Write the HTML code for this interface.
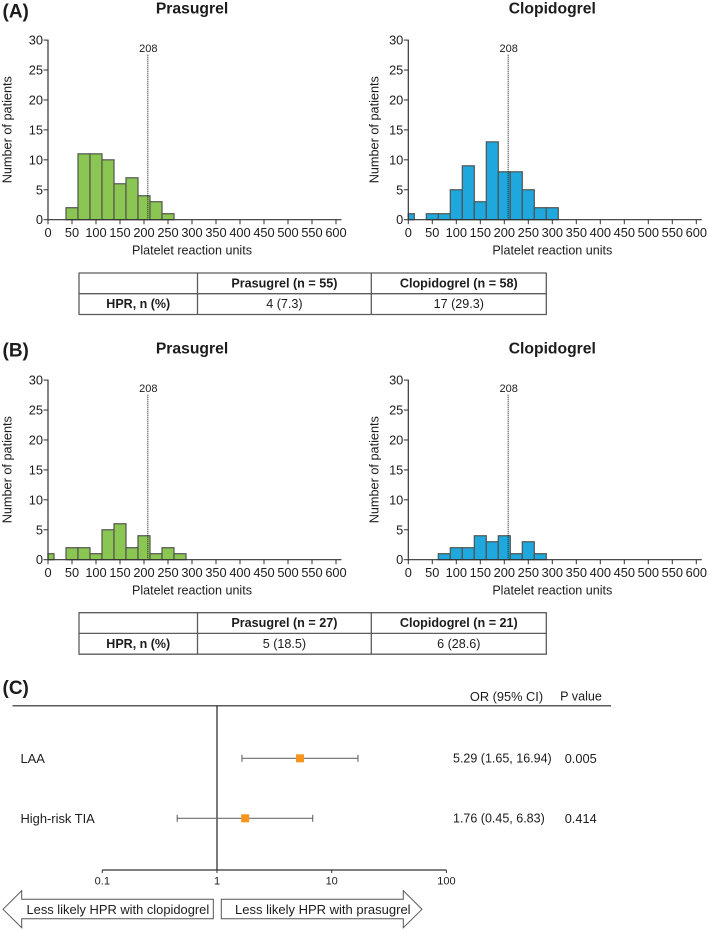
<!DOCTYPE html>
<html lang="en">
<head>
<meta charset="utf-8">
<title>Platelet reaction units by treatment</title>
<style>
html,body{margin:0;padding:0;background:#fff;}
svg{display:block;font-family:"Liberation Sans",Arial,sans-serif;filter:blur(0.3px);}
</style>
</head>
<body>
<svg id="fig" xmlns="http://www.w3.org/2000/svg" width="708" height="931" viewBox="0 0 708 931"></svg>
<script>
// ---- histogram data ----
const binCenters = [0,25,50,75,100,125,150,175,200,225,250,275,300];
const aPrasugrel = [0,0,2,11,11,10,6,7,4,3,1,0,0];
const aClopidogrel = [1,0,1,1,5,9,3,13,8,8,5,2,2];
const bPrasugrel = [1,0,2,2,1,5,6,2,4,1,2,1,0];
const bClopidogrel = [0,0,0,1,2,2,4,3,4,1,3,1,0];
const xTicks = [0,50,100,150,200,250,300,350,400,450,500,550,600];
const yTicks = [0,5,10,15,20,25,30];
const cutoff = 208;
// ---- table data ----
const tableAHeaders = ["Prasugrel (n = 55)","Clopidogrel (n = 58)"];
const tableACells = ["4 (7.3)","17 (29.3)"];
const tableBHeaders = ["Prasugrel (n = 27)","Clopidogrel (n = 21)"];
const tableBCells = ["5 (18.5)","6 (28.6)"];
// ---- forest data ----
const forestLabels = ["LAA","High-risk TIA"];
const forestOR = [5.29,1.76];
const forestLow = [1.65,0.45];
const forestHigh = [16.94,6.83];
const forestCI = ["5.29 (1.65, 16.94)","1.76 (0.45, 6.83)"];
const forestP = ["0.005","0.414"];
const forestTicks = [0.1,1,10,100];

const NS = "http://www.w3.org/2000/svg";
const fig = document.getElementById("fig");
const INK = "#1c1c1c";

function node(tag, attrs, parent, name) {
  const el = document.createElementNS(NS, tag);
  for (const k in attrs) el.setAttribute(k, attrs[k]);
  
  
  (parent || fig).appendChild(el);
  return el;
}
function label(str, x, y, size, anchor, weight, parent, name) {
  const t = node("text", {x:x, y:y, "font-size":size, "text-anchor":anchor || "start", fill:INK, "font-weight":weight || "normal", "dominant-baseline":"central"}, parent, name);
  t.textContent = str;
  return t;
}

function histogram(id, title, panelX, panelY, values, color, yTitleGap) {
  const x0 = panelX, x600 = panelX + 288, y0 = panelY, y30 = panelY - 179.6;
  const xs = v => x0 + (v / 600) * (x600 - x0);
  const ys = v => y0 - (v / 30) * (y0 - y30);
  const g = node("g", {}, fig, id + "-histogram");
  label(title, (x0 + x600) / 2, panelY - 210.5, 15.7, "middle", "bold", g, id + "-title");
  values.forEach((v, i) => {
    if (!v) return;
    const l = Math.max(0, binCenters[i] - 12.5), r = binCenters[i] + 12.5;
    node("rect", {x:xs(l), y:ys(v), width:xs(r) - xs(l), height:ys(0) - ys(v), fill:color, stroke:"#4f544f", "stroke-width":1.2}, g, id + "-bar-" + binCenters[i]);
  });
  node("line", {x1:xs(cutoff), x2:xs(cutoff), y1:panelY - 165, y2:y0, stroke:"#111", "stroke-width":1, "stroke-dasharray":"1 1"}, g, id + "-cutoff-line");
  label(String(cutoff), xs(cutoff) + 0.5, panelY - 170.5, 11, "middle", "normal", g, id + "-cutoff-label");
  node("line", {x1:x0, x2:x0, y1:y30 - 0.5, y2:y0 + 0.5, stroke:"#333", "stroke-width":1.2}, g, id + "-y-axis");
  node("line", {x1:x0 - 0.5, x2:x600 + 5.5, y1:y0, y2:y0, stroke:"#333", "stroke-width":1.2}, g, id + "-x-axis");
  yTicks.forEach(t => {
    node("line", {x1:x0 - 4.5, x2:x0, y1:ys(t), y2:ys(t), stroke:"#333", "stroke-width":1}, g, id + "-y-tick-" + t);
    label(String(t), x0 - 5, ys(t), 12.8, "end", "normal", g, id + "-y-label-" + t);
  });
  xTicks.forEach(t => {
    node("line", {x1:xs(t), x2:xs(t), y1:y0, y2:y0 + 4.5, stroke:"#333", "stroke-width":1}, g, id + "-x-tick-" + t);
    label(String(t), xs(t), y0 + 13, 12.8, "middle", "normal", g, id + "-x-label-" + t);
  });
  label("Platelet reaction units", (x0 + x600) / 2, y0 + 31, 12.55, "middle", "normal", g, id + "-x-title");
  const yt = label("Number of patients", 0, 0, 12.7, "middle", "normal", g, id + "-y-title");
  yt.setAttribute("transform", "translate(" + (x0 - yTitleGap) + "," + (y0 - 90) + ") rotate(-90)");
}

function summaryTable(id, top, headers, cells) {
  const g = node("g", {}, fig, id);
  const X = [79, 197.5, 371.3, 546.3];
  const Y = [top, top + 20.7, top + 41.5];
  const st = {stroke:"#5c5c5c", "stroke-width":1.3};
  Y.forEach((y, i) => node("line", Object.assign({x1:X[0] - 0.5, x2:X[3] + 0.5, y1:y, y2:y}, st), g, id + "-h-rule-" + i));
  X.forEach((x, i) => node("line", Object.assign({x1:x, x2:x, y1:Y[0], y2:Y[2]}, st), g, id + "-v-rule-" + i));
  label("HPR, n (%)", (X[0] + X[1]) / 2, (Y[1] + Y[2]) / 2, 12.5, "middle", "bold", g, id + "-row-label");
  headers.forEach((h, i) => {
    label(h, (X[i + 1] + X[i + 2]) / 2, (Y[0] + Y[1]) / 2, 12.6, "middle", "bold", g, id + "-header-" + i);
    label(cells[i], (X[i + 1] + X[i + 2]) / 2, (Y[1] + Y[2]) / 2, 12.6, "middle", "normal", g, id + "-cell-" + i);
  });
}

function forest() {
  const g = node("g", {}, fig, "forest-plot");
  const fx = v => 217 + Math.log10(v) * 114.7;
  const rowY = i => 758.3 + i * 60;
  const axisY = 870;
  label("OR (95% CI)", 506.5, 696.5, 12.8, "middle", "normal", g, "or-column-header");
  label("P value", 581, 696.5, 12.6, "middle", "normal", g, "p-value-column-header");
  node("line", {x1:12.5, x2:611, y1:705.7, y2:705.7, stroke:"#5c5c5c", "stroke-width":1.5}, g, "forest-top-rule");
  node("line", {x1:fx(1), x2:fx(1), y1:705.7, y2:axisY, stroke:"#222", "stroke-width":1.2}, g, "no-effect-line");
  node("line", {x1:fx(0.1), x2:fx(100), y1:axisY, y2:axisY, stroke:"#333", "stroke-width":1.2}, g, "forest-x-axis");
  forestTicks.forEach(t => {
    node("line", {x1:fx(t), x2:fx(t), y1:axisY, y2:axisY + 3, stroke:"#333", "stroke-width":1}, g, "forest-tick-" + t);
    label(String(t), fx(t), axisY + 11.5, 11, "middle", "normal", g, "forest-tick-label-" + t);
  });
  forestLabels.forEach((name, i) => {
    const y = rowY(i);
    label(name, 20.5, y, 12.9, "start", "normal", g, "forest-row-label-" + i);
    node("line", {x1:fx(forestLow[i]), x2:fx(forestHigh[i]), y1:y, y2:y, stroke:"#6f6f6f", "stroke-width":1.2}, g, "forest-ci-" + i);
    node("line", {x1:fx(forestLow[i]), x2:fx(forestLow[i]), y1:y - 3.5, y2:y + 3.5, stroke:"#666", "stroke-width":1.1}, g, "forest-ci-low-cap-" + i);
    node("line", {x1:fx(forestHigh[i]), x2:fx(forestHigh[i]), y1:y - 3.5, y2:y + 3.5, stroke:"#666", "stroke-width":1.1}, g, "forest-ci-high-cap-" + i);
    node("rect", {x:fx(forestOR[i]) - 4, y:y - 4, width:8, height:8, fill:"#f7941d"}, g, "forest-marker-" + i);
    label(forestCI[i], 453, y, 12.5, "start", "normal", g, "forest-ci-text-" + i);
    label(forestP[i], 564.7, y, 12.8, "start", "normal", g, "forest-p-text-" + i);
  });
  node("polygon", {points:"3,909.3 21.7,890.7 21.7,899.3 213.3,899.3 213.3,918.7 21.7,918.7 21.7,927.7", fill:"#fff", stroke:"#555", "stroke-width":1}, g, "left-arrow");
  label("Less likely HPR with clopidogrel", 26.5, 909.5, 12.9, "start", "normal", g, "left-arrow-label");
  node("polygon", {points:"221.3,899.3 403.3,899.3 403.3,890.7 422,909.3 403.3,927.7 403.3,918.7 221.3,918.7", fill:"#fff", stroke:"#555", "stroke-width":1}, g, "right-arrow");
  label("Less likely HPR with prasugrel", 235, 909.5, 13, "start", "normal", g, "right-arrow-label");
}

const GREEN = "#8cc652", BLUE = "#1fa8de";
label("(A)", 2.5, 12, 19, "start", "bold", fig, "panel-a-label");
label("(B)", 2.5, 351, 19, "start", "bold", fig, "panel-b-label");
label("(C)", 2.5, 688.5, 19, "start", "bold", fig, "panel-c-label");
histogram("a-prasugrel", "Prasugrel", 48, 219.7, aPrasugrel, GREEN, 40.7);
histogram("a-clopidogrel", "Clopidogrel", 408.3, 219.7, aClopidogrel, BLUE, 33.6);
summaryTable("table-a", 273, tableAHeaders, tableACells);
histogram("b-prasugrel", "Prasugrel", 48, 559.7, bPrasugrel, GREEN, 40.7);
histogram("b-clopidogrel", "Clopidogrel", 408.3, 559.7, bClopidogrel, BLUE, 33.6);
summaryTable("table-b", 612.7, tableBHeaders, tableBCells);
forest();
</script>
</body>
</html>
